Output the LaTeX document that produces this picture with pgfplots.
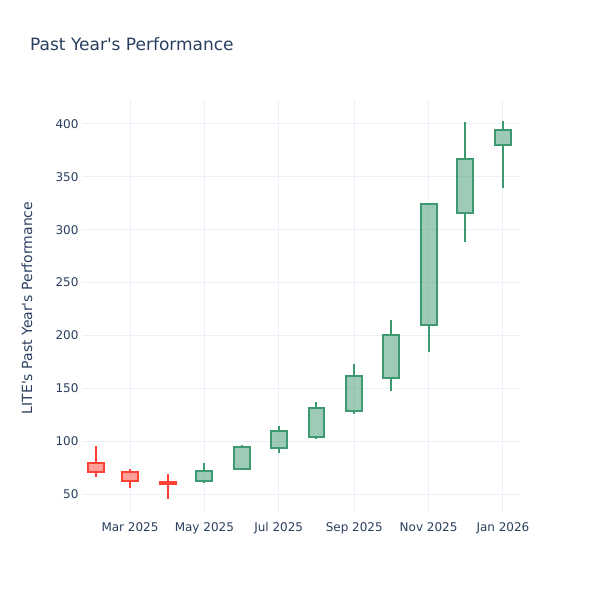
\documentclass[border=0pt]{standalone}
\usepackage{fontspec}
\setmainfont{DejaVu Sans}
\usepackage{pgfplots}
\pgfplotsset{compat=1.18}
\usepgfplotslibrary{statistics}
\definecolor{inc}{HTML}{3D9970}
\definecolor{dec}{HTML}{FF4136}
\definecolor{txt}{HTML}{2A3F5F}
\definecolor{gridc}{HTML}{EBF0F8}

% candle: position (day of 2025), open, high, low, close
\pgfplotsset{
  up/.style n args={5}{boxplot prepared={draw position=#1, lower whisker=#4,
      lower quartile=#2, median=#2, upper quartile=#5, upper whisker=#3},
      draw=inc, fill=inc, fill opacity=0.5, line width=2bp, line join=miter},
  down/.style n args={5}{boxplot prepared={draw position=#1, lower whisker=#4,
      lower quartile=#5, median=#5, upper quartile=#2, upper whisker=#3},
      draw=dec, fill=dec, fill opacity=0.5, line width=2bp, line join=miter},
}

\begin{document}
\begin{tikzpicture}
\useasboundingbox (0,0) rectangle (600bp,600bp);
\fill[white] (0,0) rectangle (600bp,600bp);
\node[anchor=base west, inner sep=0pt, font=\fontsize{17bp}{20bp}\selectfont, text=txt]
  at (30bp,549bp) {Past Year\textquotesingle s Performance};
\node[rotate=90, font=\fontsize{14bp}{17bp}\selectfont, text=txt]
  at (27bp,292bp) {LITE\textquotesingle s Past Year\textquotesingle s Performance};
\begin{axis}[
    at={(82bp,88bp)}, anchor=south west,
    scale only axis, width=438bp, height=412bp,
    xmin=19.6, xmax=379, ymin=33, ymax=422.7,
    xtick={59,120,181,243,304,365},
    xticklabels={Mar 2025, May 2025, Jul 2025, Sep 2025, Nov 2025, Jan 2026},
    ytick={50,100,...,400},
    grid=major,
    grid style={draw=gridc, line width=1bp},
    axis line style={draw=none},
    tick style={draw=none},
    ticklabel style={font=\fontsize{12bp}{14bp}\selectfont, text=txt},
    xticklabel style={yshift=-7bp},
    /pgf/number format/assume math mode=true,
    boxplot/draw direction=y,
    boxplot/box extend=13,
    boxplot/whisker extend=0,
]
\addplot[down={31}{79}{95.4}{66.3}{70.6}] coordinates {};
\addplot[down={59}{70.8}{73.4}{55.9}{62.5}] coordinates {};
\addplot[down={90}{61.6}{68.9}{45.3}{59.3}] coordinates {};
\addplot[up={120}{62}{79.6}{60.5}{71.8}] coordinates {};
\addplot[up={151}{73.6}{96.3}{73}{94.2}] coordinates {};
\addplot[up={181}{93.5}{114.1}{88.5}{109.3}] coordinates {};
\addplot[up={212}{104}{137}{102}{131.7}] coordinates {};
\addplot[up={243}{128.5}{173}{125.4}{161.9}] coordinates {};
\addplot[up={273}{159.7}{214.6}{147.7}{200.4}] coordinates {};
\addplot[up={304}{209.8}{325}{184.3}{324.1}] coordinates {};
\addplot[up={334}{315.8}{401.6}{288.7}{367.2}] coordinates {};
\addplot[up={365}{380.4}{402.8}{339.2}{394.1}] coordinates {};
\end{axis}
\end{tikzpicture}
\end{document}
